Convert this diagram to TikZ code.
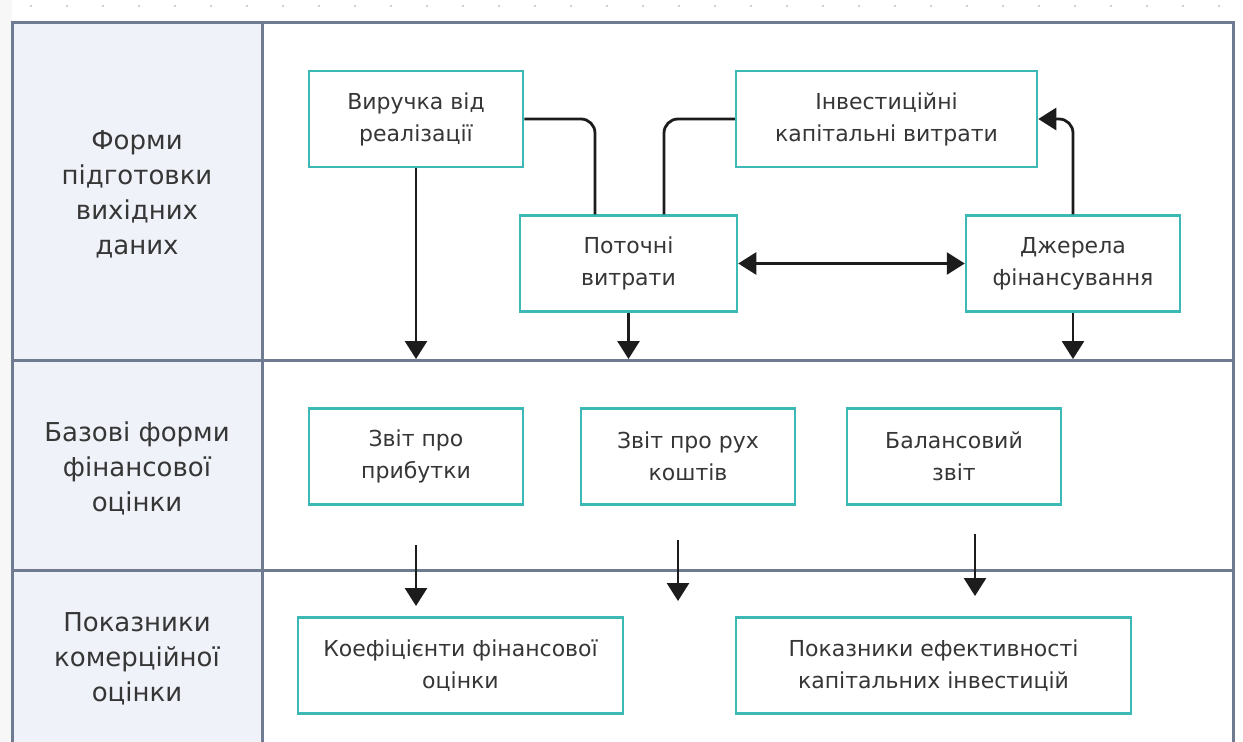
\documentclass[tikz,border=0pt]{standalone}
\usepackage{fontspec}
\setmainfont{DejaVu Sans}
\usetikzlibrary{arrows.meta}
\definecolor{framec}{HTML}{6E7B91}
\definecolor{lanefill}{HTML}{EFF2F8}
\definecolor{tealc}{HTML}{3DB9B5}
\definecolor{txtc}{HTML}{363636}
\definecolor{arrc}{HTML}{1C1C1C}
\tikzset{
 box/.style={draw=tealc, line width=2.5pt, fill=white, minimum height=96pt, align=center,
   font=\fontsize{22}{32}\selectfont, text=txtc, inner sep=0pt},
 lane/.style={font=\fontsize{26}{35}\selectfont, text=txtc, align=center, inner sep=0pt},
 conn/.style={draw=arrc, line width=2.8pt, rounded corners=14pt},
 tip/.tip={Triangle[length=18pt,width=22pt]},
 arrowc/.style={conn, -tip},
 sep/.style={draw=framec, line width=3pt},
}
\begin{document}
\begin{tikzpicture}[x=1pt,y=-1pt]
\useasboundingbox (0,0) rectangle (1243,742);
\clip (0,0) rectangle (1243,742);
\fill[white] (0,0) rectangle (1243,742);
\fill[black!3] (0,0) rectangle (12,742);
\draw[black!18, line width=2pt, dash pattern=on 2pt off 34pt] (30,6) -- (1243,6);
% lanes
\fill[lanefill] (12,22) rectangle (262,760);
\draw[sep] (12,22) rectangle (1233,760);
\draw[sep] (262,22) -- (262,760);
\draw[sep] (12,360) -- (1233,360);
\draw[sep] (12,570) -- (1233,570);
\node[lane] (l1) at (137,194) {Форми\\підготовки\\вихідних\\даних};
\node[lane] (l2) at (137,468) {Базові форми\\фінансової\\оцінки};
\node[lane] (l3) at (137,659) {Показники\\комерційної\\оцінки};
% boxes
\node[box, minimum width=214pt] (rev) at (416,119) {Виручка від\\реалізації};
\node[box, minimum width=301pt] (inv) at (886.5,119) {Інвестиційні\\капітальні витрати};
\node[box, minimum width=217pt] (cur) at (628.5,263.5) {Поточні\\витрати};
\node[box, minimum width=214pt] (fin) at (1073,263.5) {Джерела\\фінансування};
\node[box, minimum width=214pt] (pr) at (416,456.5) {Звіт про\\прибутки};
\node[box, minimum width=214pt] (cf) at (688,456.5) {Звіт про рух\\коштів};
\node[box, minimum width=214pt] (bal) at (954,456.5) {Балансовий\\звіт};
\node[box, minimum width=325pt] (kf) at (460.5,665.5) {Коефіцієнти фінансової\\оцінки};
\node[box, minimum width=395pt] (pe) at (933.5,665.5) {Показники ефективності\\капітальних інвестицій};
% connectors top lane
\coordinate (line1) at (0,359);
\draw[conn] (rev.east) -| ([xshift=-33.5pt]cur.north);
\draw[conn] ([xshift=35.5pt]cur.north) |- (inv.west);
\draw[arrowc] (fin.north) |- (inv.east);
\draw[conn, tip-tip] (cur.east) -- (fin.west);
\draw[arrowc] (rev.south) -- (rev.south |- line1);
\draw[arrowc] (cur.south) -- (cur.south |- line1);
\draw[arrowc] (fin.south) -- (fin.south |- line1);
% free arrows second lane
\coordinate (a1s) at (416,545); \coordinate (a1e) at (416,606);
\coordinate (a2s) at (678,540); \coordinate (a2e) at (678,601);
\coordinate (a3s) at (975,534); \coordinate (a3e) at (975,596);
\draw[arrowc] (a1s) -- (a1e);
\draw[arrowc] (a2s) -- (a2e);
\draw[arrowc] (a3s) -- (a3e);
\end{tikzpicture}
\end{document}
